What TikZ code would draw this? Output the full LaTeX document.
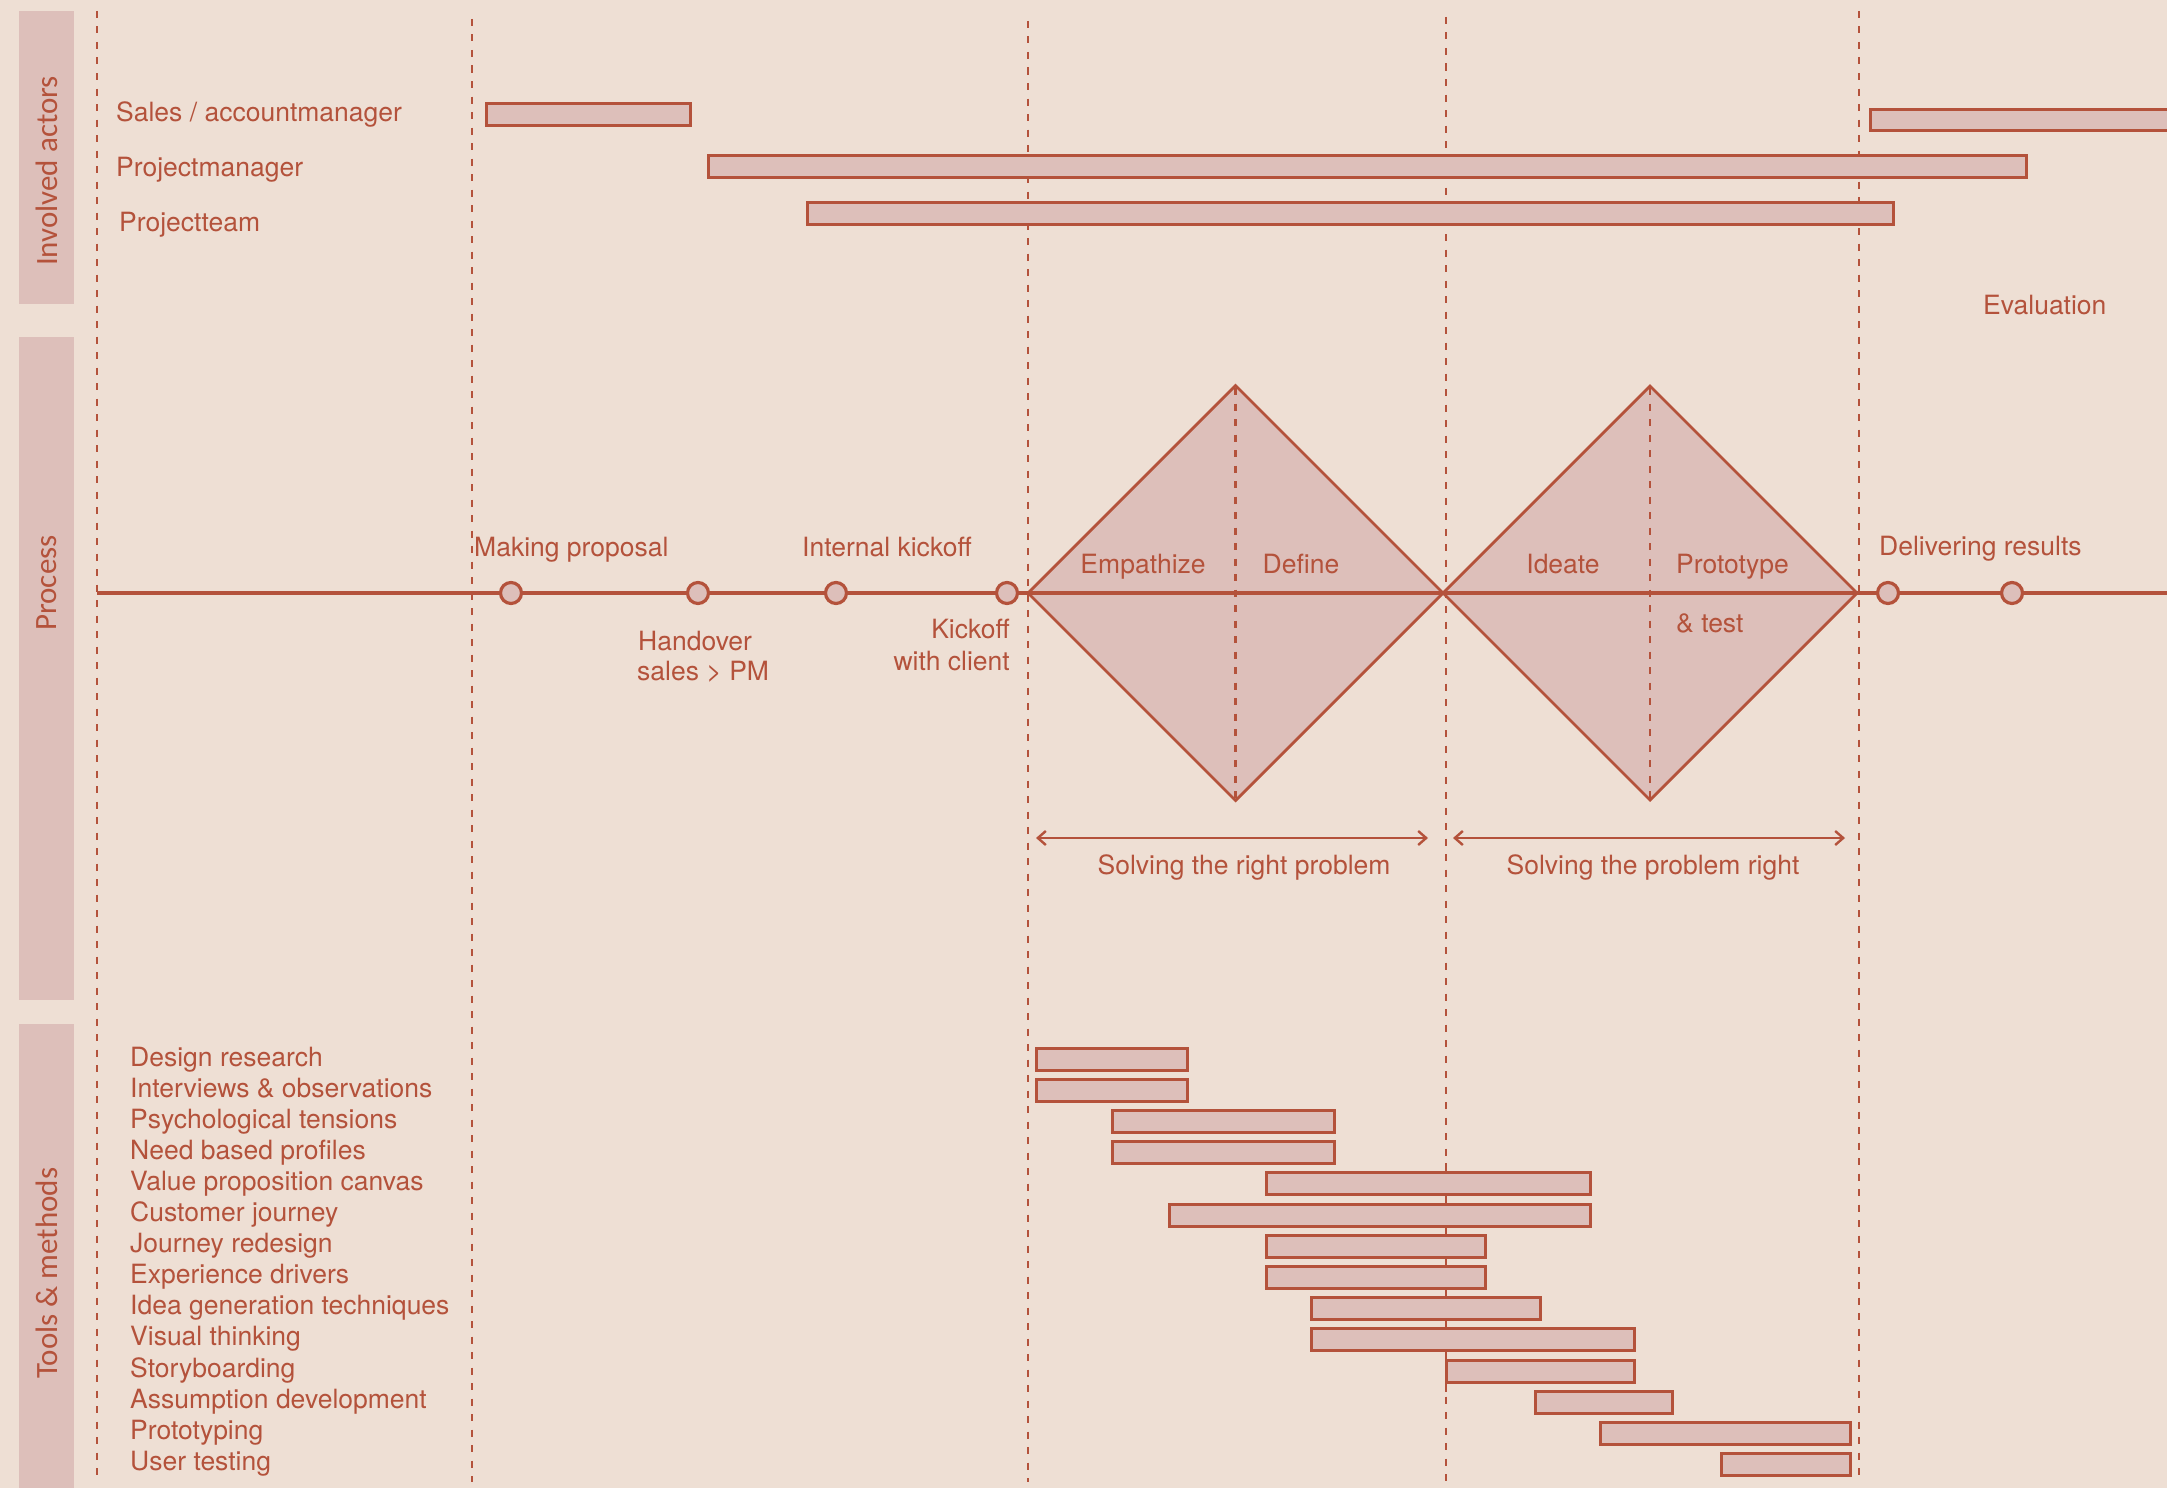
\documentclass[tikz,border=0pt]{standalone}
\usepackage{fontspec}
\setmainfont{TeX Gyre Heros}
\newfontfamily\panelfont{Carlito}
\usetikzlibrary{arrows.meta}
\definecolor{bg}{HTML}{EEDFD4}
\definecolor{rose}{HTML}{DDBFBA}
\definecolor{rust}{HTML}{B4523B}

\begin{document}
\begin{tikzpicture}[x=1pt,y=-1pt,
  lbl/.style={text=rust,inner sep=0pt,font=\fontsize{26.5}{31}\selectfont},
  paneltext/.style={text=rust,inner sep=0pt,rotate=90,font=\panelfont\fontsize{31}{36}\selectfont},
  guide/.style={draw=rust,line width=2.2pt,dash pattern=on 7pt off 8.5pt},
  bar/.style={draw=rust,fill=rose,line width=3pt},
  diam/.style={draw=rust,fill=rose,line width=2.8pt,line join=miter},
  milestone/.style={circle,draw=rust,fill=rose,line width=3.2pt,minimum size=21pt,inner sep=0pt},
  span/.style={draw=rust,line width=2.4pt,{Straight Barb[length=8pt,width=14pt]}-{Straight Barb[length=8pt,width=14pt]}},
]
\useasboundingbox[fill=bg] (0,0) rectangle (2167,1488);

% side panels
\fill[rose] (19,11) rectangle (74,304);
\fill[rose] (19,337) rectangle (74,1000);
\fill[rose] (19,1024) rectangle (74,1488);
\node[paneltext] (pactors) at (46.5,171) {Involved actors};
\node[paneltext] (pprocess) at (46.5,583) {Process};
\node[paneltext] (ptools) at (46.5,1273) {Tools \& methods};

% phase separators
\draw[guide] (97,11) -- (97,1482);
\draw[guide] (472,19) -- (472,1482);
\draw[guide] (1028,21) -- (1028,1482);
\draw[guide] (1446,17) -- (1446,1482);
\draw[guide] (1859,11) -- (1859,1478);

% double diamond
\draw[diam] (1028,593) -- (1235.5,385.5) -- (1443,593) -- (1235.5,800.5) -- cycle;
\draw[diam] (1443,593) -- (1650,386) -- (1857,593) -- (1650,800) -- cycle;
\draw[guide] (1235.5,388) -- (1235.5,798);
\draw[guide] (1650,388) -- (1650,798);

% process timeline
\coordinate (pstart) at (97,593);
\coordinate (pend) at (2167,593);
\draw[rust,line width=3.2pt] (pstart) -- (pend);
\node[milestone] (m1) at (511,593) {};
\node[milestone] (m2) at (698,593) {};
\node[milestone] (m3) at (836,593) {};
\node[milestone] (m4) at (1007,593) {};
\node[milestone] (m5) at (1888,593) {};
\node[milestone] (m6) at (2012,593) {};

\node[lbl,anchor=base west] (tprop) at (474,556) {Making proposal};
\node[lbl,anchor=base west] (tint) at (802,556) {Internal kickoff};
\node[lbl,anchor=base west] (thand1) at (638,650) {Handover};
\node[lbl,anchor=base west] (thand2) at (637,680) {sales > PM};
\node[lbl,anchor=base east] (tkick1) at (1010,638) {Kickoff};
\node[lbl,anchor=base east] (tkick2) at (1010,670) {with client};
\node[lbl,anchor=base west] (tdel) at (1879,555) {Delivering results};
\node[lbl,anchor=base west] (teval) at (1983,314) {Evaluation};

\node[lbl,anchor=base] (temp) at (1143,573) {Empathize};
\node[lbl,anchor=base] (tdef) at (1301,573) {Define};
\node[lbl,anchor=base] (tide) at (1563,573) {Ideate};
\node[lbl,anchor=base west] (tpro1) at (1676,573) {Prototype};
\node[lbl,anchor=base west] (tpro2) at (1676,632) {\& test};

% diverge / converge spans
\coordinate (sa1) at (1036,838);
\coordinate (sa2) at (1428,838);
\coordinate (sb1) at (1453,838);
\coordinate (sb2) at (1845,838);
\draw[span] (sa1) -- (sa2);
\draw[span] (sb1) -- (sb2);
\node[lbl,anchor=base] (tsa) at (1244,874) {Solving the right problem};
\node[lbl,anchor=base] (tsb) at (1653,874) {Solving the problem right};

% involved actors
\node[lbl,anchor=base west] (asales) at (116,121) {Sales / accountmanager};
\node[lbl,anchor=base west] (apm) at (116,176) {Projectmanager};
\node[lbl,anchor=base west] (ateam) at (119,231) {Projectteam};
\draw[bar] (486,103) rectangle (690,125);
\draw[bar] (1870,109) rectangle (2180,130);
\draw[bar] (708,155) rectangle (2026,177);
\draw[bar] (807,202) rectangle (1893,224);

% tools and methods
\draw[rust,line width=2.2pt] (1446,1163) -- (1446,1392);
\foreach \xa/\xb [count=\i from 0] in {1036/1187,1036/1187,1112/1334,1112/1334,1266/1590,1169/1590,1266/1485,1266/1485,1311/1540,1311/1634,1446/1634,1535/1672,1600/1850,1721/1850}{
  \draw[bar] (\xa,1059+31.2*\i-11) rectangle (\xb,1059+31.2*\i+11);
}
\foreach \t [count=\i from 0] in {Design research,Interviews \& observations,Psychological tensions,Need based profiles,Value proposition canvas,Customer journey,Journey redesign,Experience drivers,Idea generation techniques,Visual thinking,Storyboarding,Assumption development,Prototyping,User testing}{
  \node[lbl,anchor=base west] (tool\i) at (130,1066+31.1*\i) {\t};
}
\end{tikzpicture}
\end{document}
